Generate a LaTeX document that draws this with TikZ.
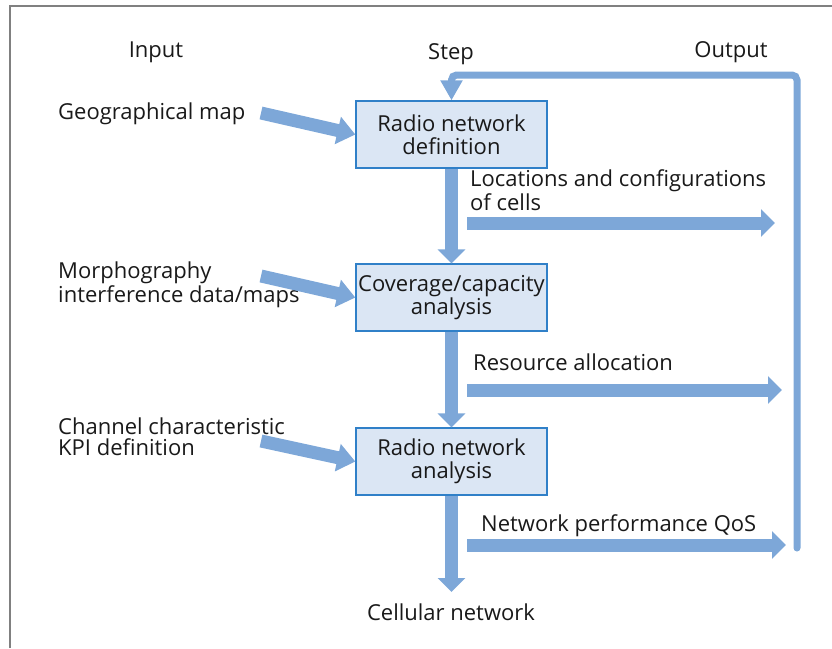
\documentclass[tikz,border=0pt]{standalone}
\usepackage{fontspec}
\setmainfont{Open Sans}
\usetikzlibrary{arrows.meta}

\definecolor{flowblue}{RGB}{125,167,216}
\definecolor{stepfill}{RGB}{219,230,244}
\definecolor{stepedge}{RGB}{48,128,200}
\definecolor{framegray}{RGB}{128,128,128}
\definecolor{inkgray}{RGB}{25,25,25}

\tikzset{
  stepbox/.style={draw=stepedge,line width=1.3pt,fill=stepfill,minimum width=191pt,minimum height=67pt,inner sep=0pt,align=center,text=inkgray,font=\fontsize{22}{23}\selectfont},
  txt/.style={inner sep=0pt,align=left,text=inkgray,font=\fontsize{22}{21}\selectfont},
  fatarrow/.style={draw=flowblue,line width=13pt,-{Triangle[width=27pt,length=14pt]}},
  inarrow/.style={draw=flowblue,line width=13pt,-{Triangle[width=27pt,length=18pt]}},
  loopline/.style={draw=flowblue,line width=7pt,line cap=round,rounded corners=5pt,-{Triangle[width=21pt,length=20pt]}}
}

\begin{document}
\begin{tikzpicture}[x=1pt,y=-1pt]
            \useasboundingbox (0,0) rectangle (832,648);
            \draw[framegray,line width=1.5pt] (10,648) -- (10,6) -- (832,6);
            \node[txt,anchor=base] (input) at (156,57) {Input};
            \node[txt,anchor=base] (step) at (451,59) {Step};
            \node[txt,anchor=base] (output) at (731,57) {Output};
            \node[stepbox] (define) at (451.5,134.5) {Radio network\\definition};
            \node[stepbox] (cover) at (451.5,297.5) {Coverage/capacity\\analysis};
            \node[stepbox] (analyse) at (451.5,461.5) {Radio network\\analysis};
            % base of a two-line text is the base of its last line
            \node[txt,anchor=base west] (geo) at (58,119) {Geographical map};
            \node[txt,anchor=base west] (morph) at (58,302) {Morphography\\interference data/maps};
            \node[txt,anchor=base west] (chan) at (58,455) {Channel characteristic\\KPI definition};
            \node[txt,anchor=base west] (loc) at (470,210) {Locations and configurations\\of cells};
            \node[txt,anchor=base west] (res) at (473,370) {Resource allocation};
            \node[txt,anchor=base west] (qos) at (481,531) {Network performance QoS};
            \node[txt,anchor=base] (cell) at (451,620) {Cellular network};
            % inputs
            \coordinate (geo tail) at (261,113);
            \coordinate (morph tail) at (261,276);
            \coordinate (chan tail) at (261,441);
            \draw[inarrow] (geo tail) -- (define.west);
            \draw[inarrow] (morph tail) -- (cover.west);
            \draw[inarrow] (chan tail) -- (analyse.west);
            % steps
            \coordinate (cell top) at (451.5,592);
            \draw[fatarrow] (define.south) -- (cover.north);
            \draw[fatarrow] (cover.south) -- (analyse.north);
            \draw[fatarrow] (analyse.south) -- (cell top);
            % outputs
            \coordinate (loc from) at (467,223);
            \coordinate (loc to) at (775,223);
            \coordinate (res from) at (467,390);
            \coordinate (res to) at (782,390);
            \coordinate (qos from) at (467,545);
            \coordinate (qos to) at (786,545);
            \draw[fatarrow] (loc from) -- (loc to);
            \draw[fatarrow] (res from) -- (res to);
            \draw[fatarrow] (qos from) -- (qos to);
            % feedback
            \coordinate (back start) at (797,548);
            \draw[loopline] (back start) -- (797,75) -- (451.5,75) -- (define.north);
\end{tikzpicture}
\end{document}
